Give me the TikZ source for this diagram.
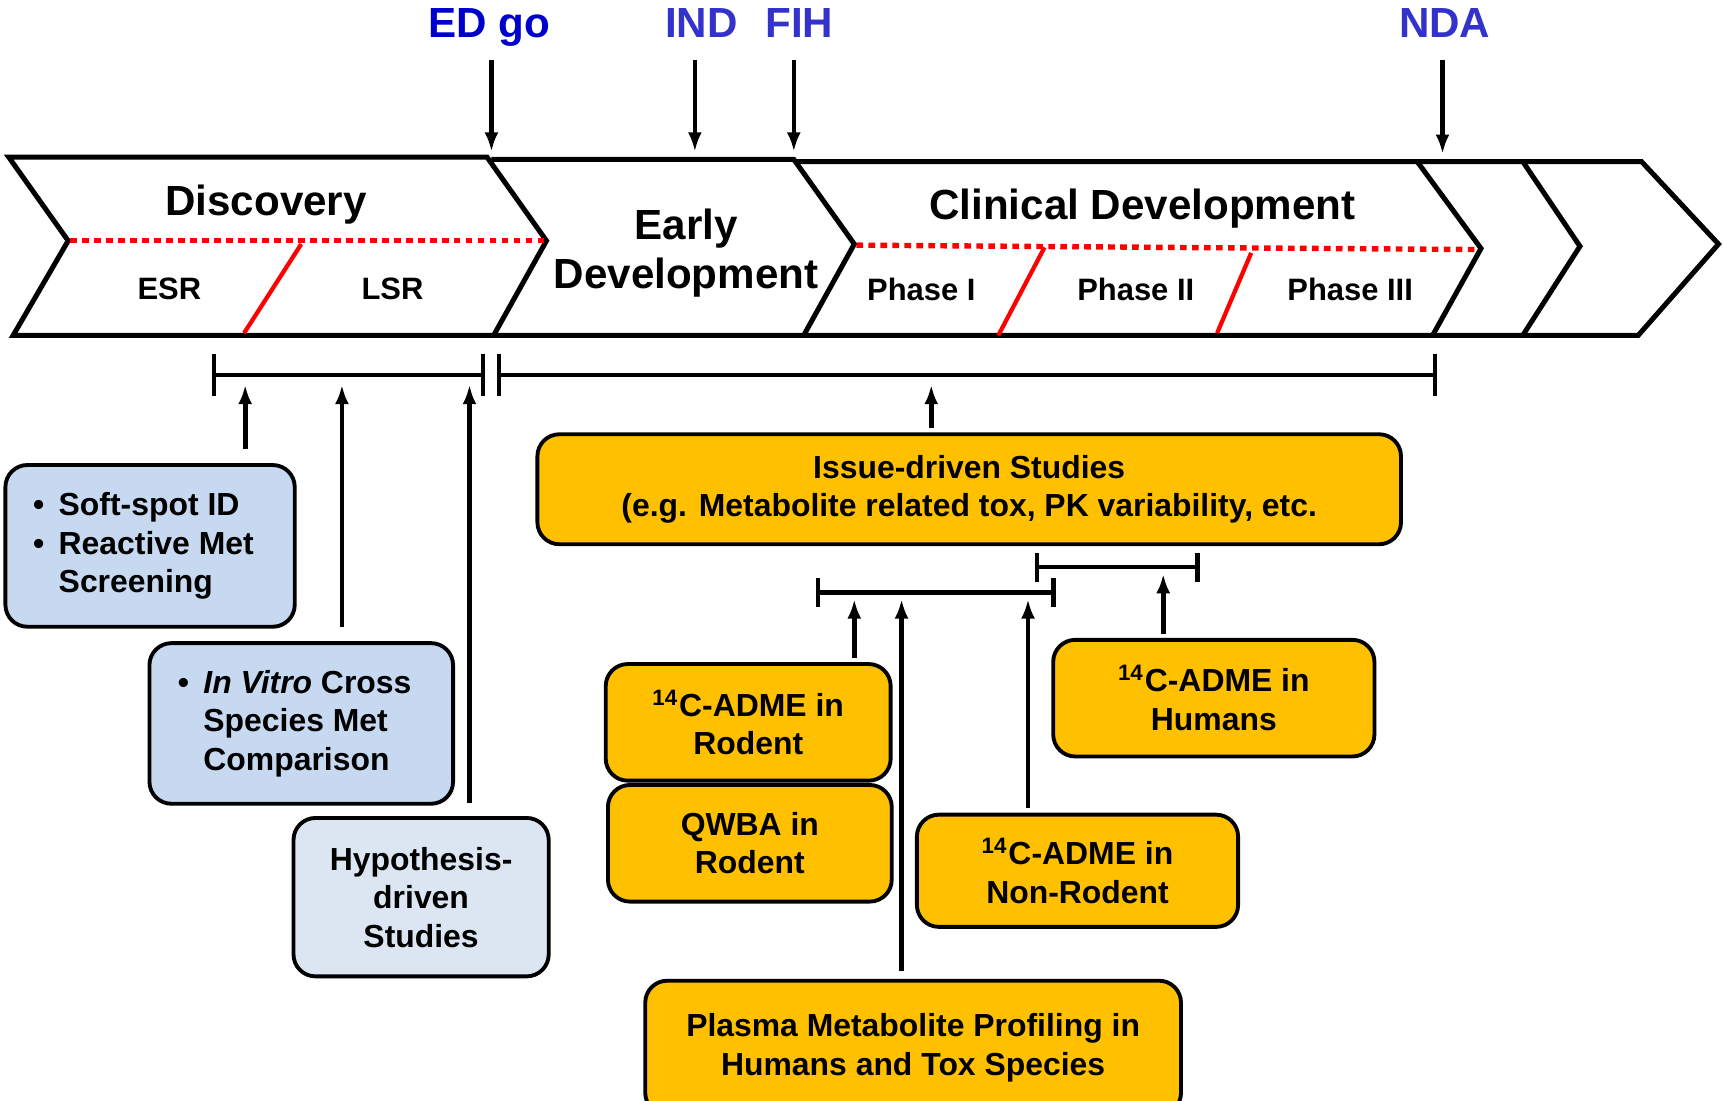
\documentclass[tikz,border=0pt]{standalone}
\usepackage{fontspec}
\setmainfont{Liberation Sans}
\usetikzlibrary{arrows.meta}

\definecolor{boxblue}{RGB}{198,217,241}
\definecolor{paleblue}{RGB}{220,230,242}
\definecolor{gold}{RGB}{255,192,0}
\definecolor{edblue}{RGB}{0,0,204}
\definecolor{msblue}{RGB}{51,51,204}

\newcommand{\bigtxt}{\fontsize{10.9}{12.8}\selectfont\bfseries}
\newcommand{\boxtxt}{\fontsize{8.25}{9.96}\selectfont\bfseries}
\newcommand{\phasetxt}{\fontsize{8}{9.6}\selectfont\bfseries}
\newcommand{\bul}{•\hspace{0.45em}}
\newcommand{\nobul}{\hphantom{•}\hspace{0.45em}}

\begin{document}
\begin{tikzpicture}[x=0.01cm, y=-0.01cm,
    studybox/.style={draw=black, line width=1pt, rounded corners=0.2cm,
        align=center, font=\boxtxt, inner sep=0pt},
    bluebox/.style={studybox, fill=boxblue},
    palebox/.style={studybox, fill=paleblue},
    goldbox/.style={studybox, fill=gold},
    uparr/.style={line width=1.2pt, -{Latex[length=5pt,width=3.6pt]}},
    downarr/.style={line width=1.2pt, -{Latex[length=5pt,width=3.6pt]}},
    milestone/.style={font=\bigtxt, anchor=base, inner sep=0pt, text depth=0.3em},
    stagelabel/.style={font=\bigtxt, anchor=base},
    phaselabel/.style={font=\phasetxt, anchor=base},
    chev/.style={line width=1.3pt},
    phasedots/.style={red, line width=1.4pt, dash pattern=on 1.7pt off 1.4pt},
    phasecut/.style={red, line width=1.1pt},
    bracket/.style={line width=1.1pt, {Bar[width=11pt]}-{Bar[width=11pt]}},
    subbracket/.style={line width=1.1pt, {Bar[width=7.5pt]}-{Bar[width=7.5pt]}}
]
    \useasboundingbox (0,0) rectangle (1568,1001);

    % ---- milestones ----
    \node[milestone, text=edblue] (edgo) at (445,34) {ED go};
    \node[milestone, text=msblue] (ind) at (638,34) {IND};
    \node[milestone, text=msblue] (fih) at (727,34) {FIH};
    \node[milestone, text=msblue] (nda) at (1314,34) {NDA};
    \coordinate (m1) at (447,138);
    \coordinate (m2) at (632,138);
    \coordinate (m3) at (722,138);
    \coordinate (m4) at (1312,140);
    \draw[downarr, shorten <=2.7pt] (edgo.south -| m1) -- (m1);
    \draw[downarr, shorten <=2.7pt] (ind.south -| m2) -- (m2);
    \draw[downarr, shorten <=2.7pt] (fih.south -| m3) -- (m3);
    \draw[downarr, shorten <=2.7pt] (nda.south -| m4) -- (m4);

    % ---- stage chevrons ----
    \draw[chev] (8,143) -- (443,143) -- (497,219) -- (449,305) -- (12,305) -- (62,219) -- cycle;
    \draw[chev] (447,145) -- (722,145) -- (777,222) -- (731,305) -- (449,305);
    \draw[chev] (724,147) -- (1289,147) -- (1347,226) -- (1303,305) -- (731,305);
    \draw[chev] (1289,147) -- (1385,147) -- (1437,224) -- (1385,305) -- (1303,305);
    \draw[chev] (1385,147) -- (1493,147) -- (1563,222) -- (1490,305) -- (1385,305);

    % ---- sub-phase splits ----
    \draw[phasedots] (64,219) -- (495,219);
    \draw[phasedots] (779,223) -- (1345,227);
    \draw[phasecut] (274,222) -- (222,303);
    \draw[phasecut] (950,225) -- (908,305);
    \draw[phasecut] (1138,230) -- (1107,303);

    % ---- stage labels ----
    \node[stagelabel] (disc) at (242,196) {Discovery};
    \node[phaselabel] (esr) at (154,272) {ESR};
    \node[phaselabel] (lsr) at (357,272) {LSR};
    \node[font=\bigtxt, align=center] (early) at (624,230) {Early\\Development};
    \node[stagelabel] (clin) at (1039,200) {Clinical Development};
    \node[phaselabel] (ph1) at (838,273) {Phase I};
    \node[phaselabel] (ph2) at (1033,273) {Phase II};
    \node[phaselabel] (ph3) at (1228,273) {Phase III};

    % ---- time span brackets ----
    \draw[bracket] (193,341) -- (441,341);
    \draw[bracket] (452,341) -- (1307,341);
    \draw[subbracket] (742,539) -- (960,539);
    \draw[subbracket] (941,516) -- (1091,516);

    % ---- discovery studies ----
    \node[bluebox, align=left, minimum width=2.63cm, minimum height=1.47cm] (soft) at (136.5,496.5)
        {\bul Soft-spot ID\\\bul Reactive Met\kern0.12cm\\\nobul Screening};
    \node[bluebox, align=left, minimum width=2.76cm, minimum height=1.46cm] (invitro) at (274,658)
        {\bul\textit{In Vitro} Cross\kern0.12cm\\\nobul Species Met\\\nobul Comparison};
    \node[palebox, minimum width=2.32cm, minimum height=1.44cm] (hypo) at (383,816)
        {Hypothesis-\\driven\\Studies};

    % ---- development studies ----
    \node[goldbox, minimum width=7.85cm, minimum height=1.0cm] (issue) at (881.5,445)
        {Issue-driven Studies\\(e.g. Metabolite related tox, PK variability, etc.};
    \node[goldbox, minimum width=2.59cm, minimum height=1.06cm] (rodent) at (680.5,657)
        {\textsuperscript{14}C-ADME in\\Rodent};
    \node[goldbox, minimum width=2.58cm, minimum height=1.06cm] (qwba) at (682,767)
        {QWBA in\\Rodent};
    \node[goldbox, minimum width=2.92cm, minimum height=1.02cm] (nonrod) at (980,792)
        {\textsuperscript{14}C-ADME in\\Non-Rodent};
    \node[goldbox, minimum width=2.92cm, minimum height=1.06cm] (humans) at (1104,635)
        {\textsuperscript{14}C-ADME in\\Humans};
    \node[goldbox, minimum width=4.87cm, minimum height=1.22cm] (plasma) at (830.5,953)
        {Plasma Metabolite Profiling in\\Humans and Tox Species};

    % ---- arrows into brackets ----
    \coordinate (b1) at (223,350);
    \coordinate (b2) at (311,350);
    \coordinate (b3) at (427,350);
    \coordinate (b4) at (847,350);
    \draw[uparr, shorten <=3.7pt] (soft.north -| b1) -- (b1);
    \draw[uparr, shorten <=3.7pt] (invitro.north -| b2) -- (b2);
    \draw[uparr, shorten <=3.4pt] (hypo.north -| b3) -- (b3);
    \draw[uparr, shorten <=1pt] (issue.north -| b4) -- (b4);
    \coordinate (c1) at (777,545);
    \coordinate (c2) at (820,545);
    \coordinate (c3) at (935,545);
    \coordinate (c4) at (1058,522);
    \draw[uparr, shorten <=1.1pt] (rodent.north -| c1) -- (c1);
    \draw[uparr, shorten <=2pt] (plasma.north -| c2) -- (c2);
    \draw[uparr, shorten <=1.1pt] (nonrod.north -| c3) -- (c3);
    \draw[uparr, shorten <=1.1pt] (humans.north -| c4) -- (c4);
\end{tikzpicture}
\end{document}
